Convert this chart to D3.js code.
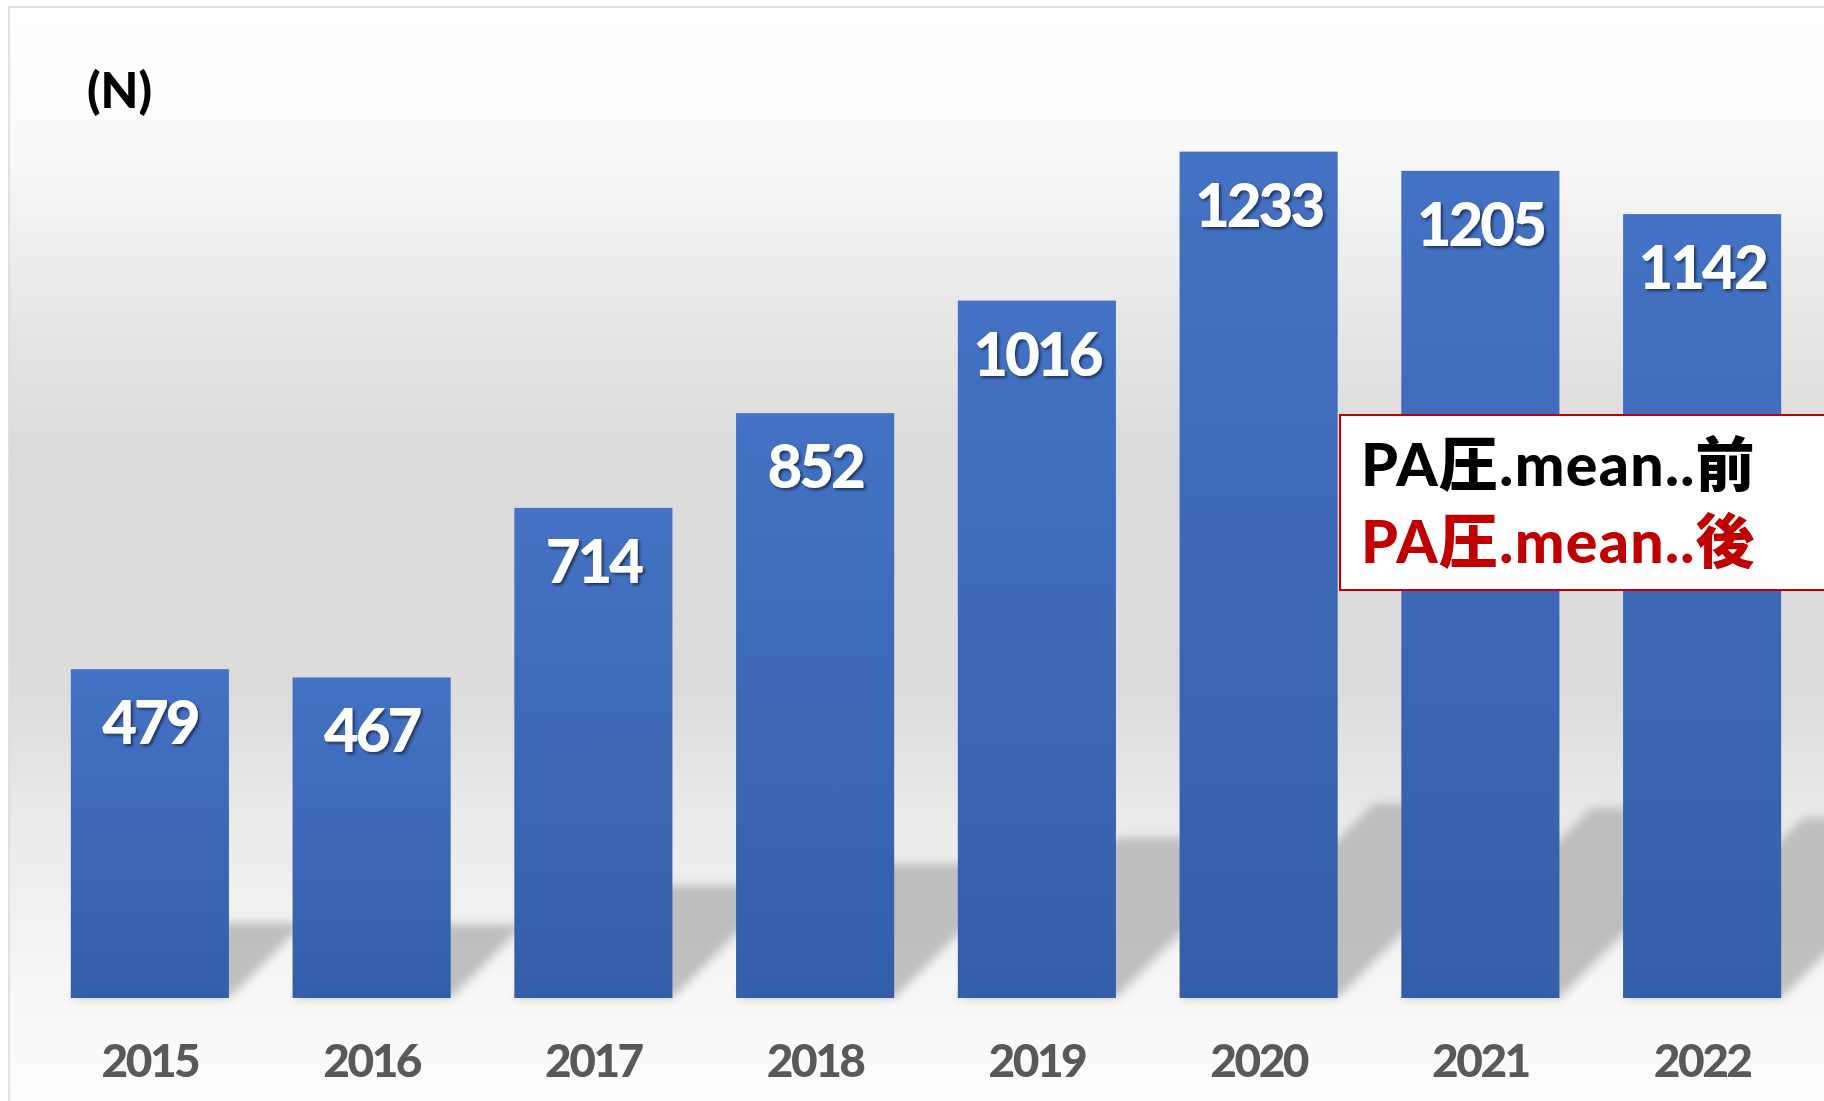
<!DOCTYPE html>
<html><head><meta charset="utf-8">
<script src="https://cdn.jsdelivr.net/npm/d3@7"></script>
<style>html,body{margin:0;padding:0;background:#fff;overflow:hidden}</style>
</head><body>
<svg id="c" width="1824" height="1101"></svg>
<script>
const years = ["2015","2016","2017","2018","2019","2020","2021","2022"];
const values = [479, 467, 714, 852, 1016, 1233, 1205, 1142];
const unitLabel = "(N)";
const legendLines = ["PA圧.mean..前", "PA圧.mean..後"];
const legendColors = ["#000000", "#c00000"];

const W = 1824, H = 1101;
const svg = d3.select("#c");
const defs = svg.append("defs");

const bg = defs.append("linearGradient").attr("id","bg").attr("gradientUnits","userSpaceOnUse")
  .attr("x1",0).attr("x2",0).attr("y1",7).attr("y2",H);
[[0,"#ffffff"],[0.13,"#f9f9f9"],[0.28,"#e7e7e7"],[0.4,"#dbdbdb"],[0.63,"#dcdcdc"],[0.74,"#eaeaea"],[0.9,"#f7f7f7"],[1,"#fcfcfc"]]
  .forEach(([o,c])=>bg.append("stop").attr("offset",o).attr("stop-color",c));

const bar = defs.append("linearGradient").attr("id","bar").attr("x1",0).attr("x2",0).attr("y1",0).attr("y2",1);
bar.append("stop").attr("offset",0).attr("stop-color","#4472c4");
bar.append("stop").attr("offset",1).attr("stop-color","#345ea8");

const blur = defs.append("filter").attr("id","blur").attr("x","-50%").attr("y","-50%").attr("width","200%").attr("height","200%");
blur.append("feGaussianBlur").attr("stdDeviation",5);

const ds = defs.append("filter").attr("id","ds").attr("x","-20%").attr("y","-20%").attr("width","140%").attr("height","140%");
ds.append("feDropShadow").attr("dx",2).attr("dy",2).attr("stdDeviation",1.5).attr("flood-color","#000").attr("flood-opacity",0.55);

svg.append("rect").attr("x",9).attr("y",7).attr("width",W).attr("height",H)
  .attr("fill","url(#bg)").attr("stroke","#d9d9d9").attr("stroke-width",1.5);

const x = d3.scaleBand().domain(years).range([39, 1813]).paddingInner(0.287).paddingOuter(0.1435);
const y = d3.scaleLinear().domain([0, 1400]).range([998, 37]);

const data = years.map((yr,i)=>({yr, v: values[i]}));

// perspective floor shadows
svg.append("g").attr("filter","url(#blur)").selectAll("path").data(data).join("path")
  .attr("d", d => {
    const L = x(d.yr), R = L + x.bandwidth(), b = y(0);
    const h = 0.23 * (y(0) - y(d.v)), dx = 1.0 * h;
    return `M${L},${b}L${R},${b}L${R+dx},${b-h}L${L+dx},${b-h}Z`;
  })
  .attr("fill","#bababa").attr("opacity",0.92);

svg.append("g").selectAll("rect").data(data).join("rect")
  .attr("x", d=>x(d.yr)).attr("width", x.bandwidth())
  .attr("y", d=>y(d.v)).attr("height", d=>y(0)-y(d.v))
  .attr("fill","url(#bar)");

svg.append("g").selectAll("text").data(data).join("text")
  .attr("x", d=>x(d.yr)+x.bandwidth()/2).attr("y", d=>y(d.v)+75)
  .attr("text-anchor","middle").attr("fill","#fff")
  .attr("font-family","Lato, 'Noto Sans', sans-serif").attr("font-weight",900)
  .attr("font-size",60).attr("letter-spacing",-3)
  .attr("filter","url(#ds)")
  .text(d=>d.v);

const xAxis = svg.append("g").attr("transform",`translate(0,${y(0)})`)
  .call(d3.axisBottom(x).tickSize(0).tickPadding(0));
xAxis.select(".domain").remove();
xAxis.selectAll("text").attr("y",79).attr("dy",null)
  .attr("fill","#595959").attr("font-family","Lato, 'Noto Sans', sans-serif")
  .attr("font-weight",900).attr("font-size",46).attr("letter-spacing",-2.5);

svg.append("text").attr("x",87).attr("y",108)
  .attr("font-family","Lato, 'Noto Sans', sans-serif").attr("font-weight",900)
  .attr("font-size",49).attr("fill","#000").text(unitLabel);

const lg = svg.append("g");
lg.append("rect").attr("x",1340).attr("y",415).attr("width",520).attr("height",175)
  .attr("fill","#fff").attr("stroke","#c00000").attr("stroke-width",2);
lg.selectAll("text").data(legendLines).join("text")
  .attr("x",1361).attr("y",(d,i)=>486 + i*77)
  .attr("fill",(d,i)=>legendColors[i])
  .attr("font-family","Lato, 'Noto Sans CJK JP', sans-serif").attr("font-weight",900)
  .attr("font-size",59).attr("letter-spacing",1.3).text(d=>d);
</script>
</body></html>
